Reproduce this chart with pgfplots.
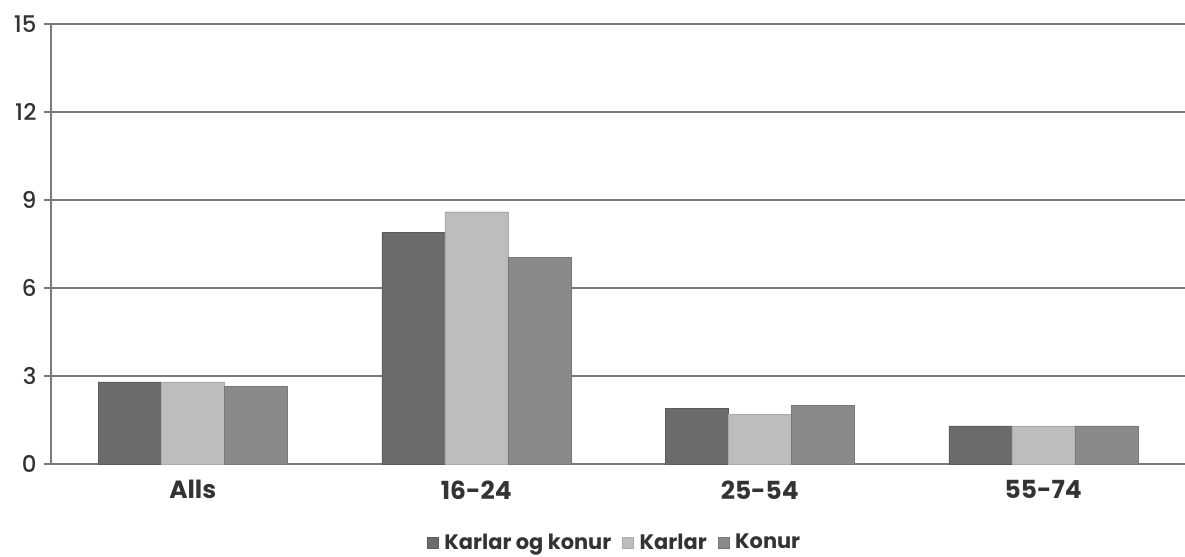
\documentclass[border=0pt]{standalone}
\usepackage{pgfplots}
\pgfplotsset{compat=1.18}
\usepackage{fontspec}
\setmainfont{Poppins}
\newfontfamily\pmed{Poppins Medium}

\definecolor{txt}{HTML}{333333}
\definecolor{gridc}{HTML}{7A7A7A}
\definecolor{cboth}{HTML}{6B6B6B}
\definecolor{cmen}{HTML}{BDBDBD}
\definecolor{cwomen}{HTML}{8A8A8A}

\begin{document}
\begin{tikzpicture}
    \path[use as bounding box] (-51bp,-93bp) rectangle (1134bp,464bp);
    \begin{axis}[
        at={(0,0)}, anchor=south west,
        scale only axis,
        width=1134bp, height=440bp,
        ybar=0pt, bar width=63bp,
        xmin=-0.5, xmax=3.5,
        ymin=0, ymax=15,
        xtick={0,1,2,3},
        xticklabels={Alls,16-24,25-54,55-74},
        x tick label style={font=\fontsize{25}{28}\selectfont\bfseries, text=txt, yshift=-6bp},
        major x tick style={draw=none},
        extra x ticks={0.5,1.5,2.5},
        extra x tick labels={},
        extra x tick style={major tick length=7bp, tick align=outside, major tick style={draw=gridc, line width=1.3bp}},
        ytick={0,3,...,15},
        y tick label style={font=\fontsize{23}{25}\pmed, text=txt, xshift=-4bp},
        /pgf/number format/assume math mode=true,
        major y tick style={draw=gridc, line width=1.3bp},
        major tick length=7bp,
        tick align=outside,
        ymajorgrids,
        major grid style={draw=gridc, line width=1.5bp},
        axis x line*=bottom,
        axis y line*=left,
        axis line style={draw=gridc, line width=1.5bp, -},
        legend style={
            at={(0.497,-0.178)}, anchor=center,
            draw=none, fill=none,
            legend columns=-1,
            font=\fontsize{21}{23}\selectfont\bfseries,
            text=txt,
            /tikz/every odd column/.append style={column sep=4bp},
            /tikz/every even column/.append style={column sep=9bp},
        },
        legend image code/.code={\fill[#1] (0bp,-5.5bp) rectangle (11bp,5.5bp);},
    ]
        \addplot[fill=cboth, draw=cboth!85!black] coordinates {(0,2.8) (1,7.9) (2,1.9) (3,1.3)};
        \addplot[fill=cmen, draw=cmen!90!black] coordinates {(0,2.8) (1,8.6) (2,1.7) (3,1.3)};
        \addplot[fill=cwomen, draw=cwomen!88!black] coordinates {(0,2.65) (1,7.05) (2,2.0) (3,1.3)};
        \legend{Karlar og konur, Karlar, Konur}
    \end{axis}
\end{tikzpicture}
\end{document}
